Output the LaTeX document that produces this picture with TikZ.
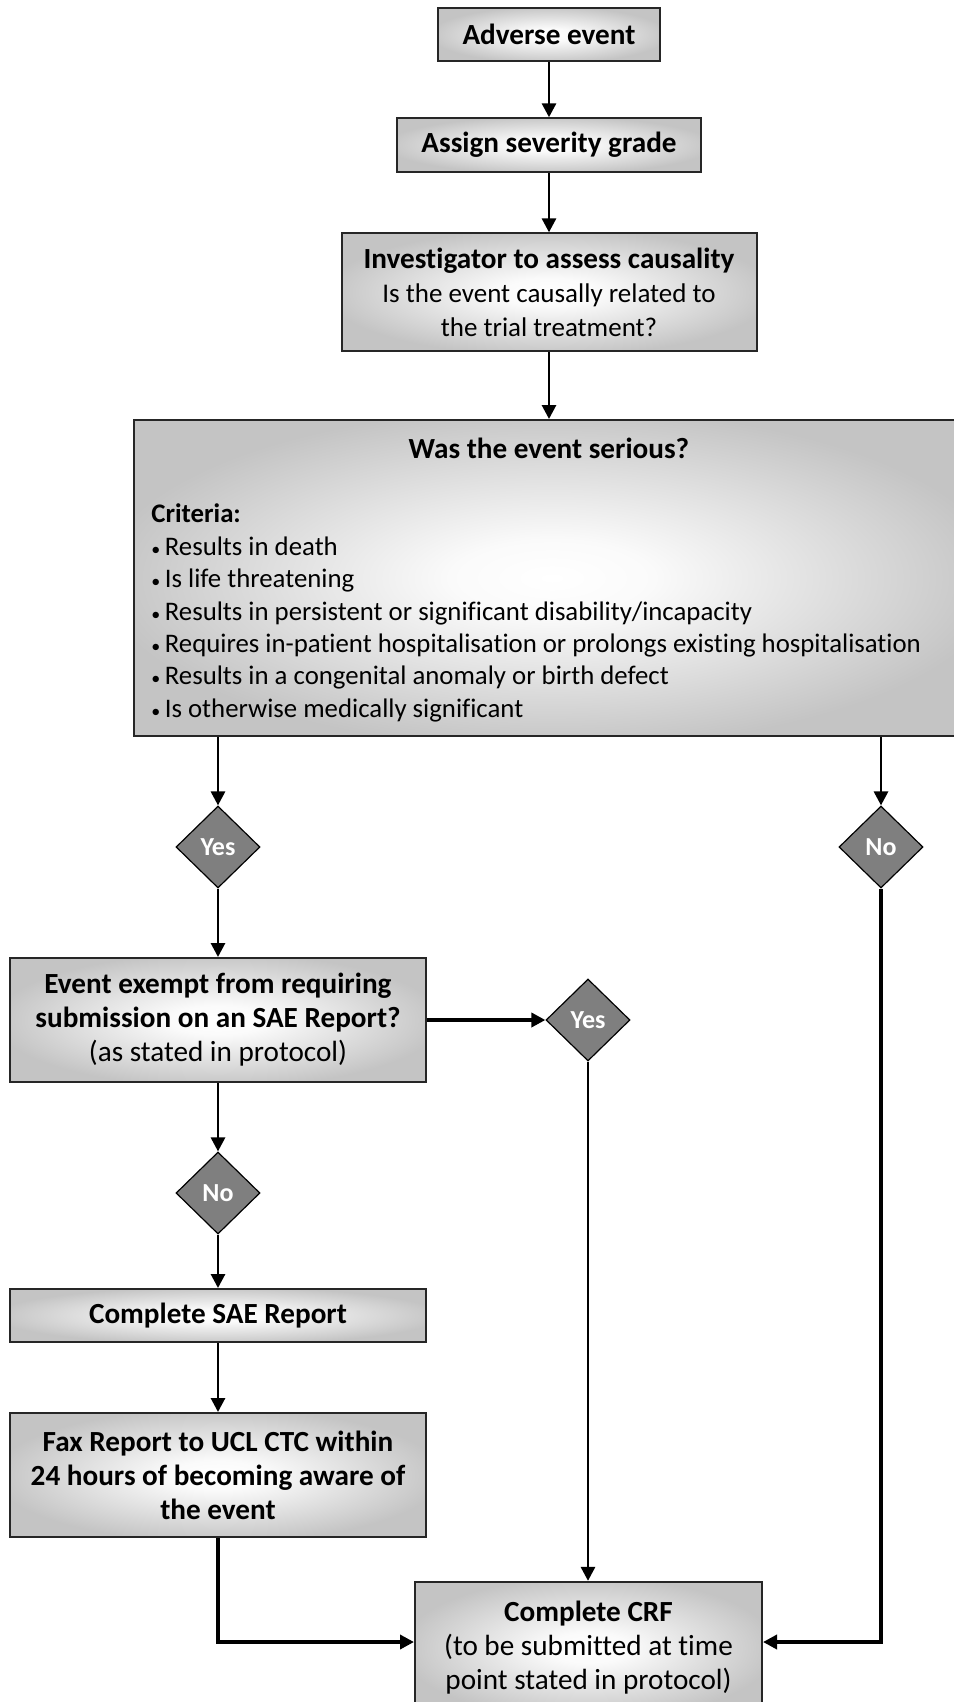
\documentclass[tikz,border=0pt]{standalone}
\usepackage{fontspec}
\setmainfont{Carlito}[Ligatures=NoCommon]
\usepackage{tikz}
\usetikzlibrary{arrows.meta}
\usetikzlibrary{shapes.geometric}
\usetikzlibrary{positioning}
\definecolor{boxgray}{HTML}{C4C4C4}
\definecolor{diagray}{HTML}{7F7F7F}
\pgfdeclareradialshading{boxshade}{\pgfpoint{0bp}{0bp}}{color(0bp)=(white); color(6bp)=(white!92!boxgray); color(27bp)=(boxgray); color(50bp)=(boxgray)}
\newcommand\hd[1]{{\fontsize{14.6}{17}\selectfont\bfseries #1}}
\newcommand\pr[1]{{\fontsize{14.6}{17}\selectfont #1}}
\newcommand\bul{{\fontsize{9}{9}\selectfont\textbullet}\,}
\tikzset{
  box/.style={draw=black!85,line width=1pt,shading=boxshade,align=center,inner sep=2pt,
    font=\fontsize{13.5}{17}\selectfont},
  dia/.style={diamond,draw=black,line width=0.6pt,fill=diagray,text=white,inner sep=0pt,
    minimum width=42pt,minimum height=41pt,font=\fontsize{13}{15}\selectfont\bfseries},
  arr/.style={line width=\lw,-{Triangle[width=7pt,length=7pt]}},
}

\begin{document}
\begin{tikzpicture}[x=0.5pt,y=-0.5pt]
\def\lw{1.45pt}
\def\lwb{1.9pt}
\useasboundingbox (0,0) rectangle (953,1702);

\node[box,minimum width=110.75pt,minimum height=26.25pt] (adverse) at (549,34.75) {\hd{Adverse event}};
\node[box,minimum width=152.25pt,minimum height=26.7pt] (severity) at (549,145) {\hd{Assign severity grade}};
\node[box,minimum width=207.5pt,minimum height=58.85pt] (invest) at (549,292.2)
  {\hd{Investigator to assess causality}\\Is the event causally related to\\the trial treatment?};

\node[box,minimum width=418pt,minimum height=158pt] (serious) at (552,578) {};
\node[inner sep=0pt] (seriousT) at (549,448) {\hd{Was the event serious?}};
\node[align=left,anchor=west,inner sep=0pt,font=\fontsize{13.4}{16.2}\selectfont] (crit) at (151,613)
  {\textbf{Criteria:}\\
   \bul Results in death\\
   \bul Is life threatening\\
   \bul Results in persistent or significant disability/incapacity\\
   \bul Requires in-patient hospitalisation or prolongs existing hospitalisation\\
   \bul Results in a congenital anomaly or birth defect\\
   \bul Is otherwise medically significant};

\node[dia] (yes1) at (218,847) {Yes};
\node[dia] (no1) at (881,847) {No};

\node[box,minimum width=207.6pt,minimum height=62pt] (exempt) at (218,1020)
  {\hd{Event exempt from requiring}\\\hd{submission on an SAE Report?}\\\pr{(as stated in protocol)}};
\node[dia] (yes2) at (588,1020) {Yes};
\node[dia] (no2) at (218,1193) {No};

\node[box,minimum width=207.6pt,minimum height=26.5pt] (sae) at (218,1315.5) {\hd{Complete SAE Report}};
\node[box,minimum width=207.6pt,minimum height=62pt] (fax) at (218,1475)
  {\hd{Fax Report to UCL CTC within}\\\hd{24 hours of becoming aware of}\\\hd{the event}};
\node[box,minimum width=173.5pt,minimum height=66.15pt] (crf) at (588.5,1648)
  {\hd{Complete CRF}\\\pr{(to be submitted at time}\\\pr{point stated in protocol)}};
\coordinate (mrg) at (0,1642);

\draw[arr] (adverse) -- (severity);
\draw[arr] (severity) -- (invest);
\draw[arr] (invest.south) -- (invest.south |- serious.north);
\draw[arr] (serious.south -| yes1) -- (yes1);
\draw[arr] (serious.south -| no1) -- (no1);
\draw[arr] (yes1) -- (exempt);
\draw[arr,line width=\lwb] (exempt) -- (yes2);
\draw[arr] (exempt) -- (no2);
\draw[arr] (no2) -- (sae);
\draw[arr] (sae) -- (fax);
\draw[arr] (yes2.south) -- (yes2.south |- crf.north);
\draw[arr,line width=\lwb] (fax.south) |- (crf.west |- mrg);
\draw[arr,line width=\lwb] (no1.south) |- (crf.east |- mrg);

\end{tikzpicture}
\end{document}
